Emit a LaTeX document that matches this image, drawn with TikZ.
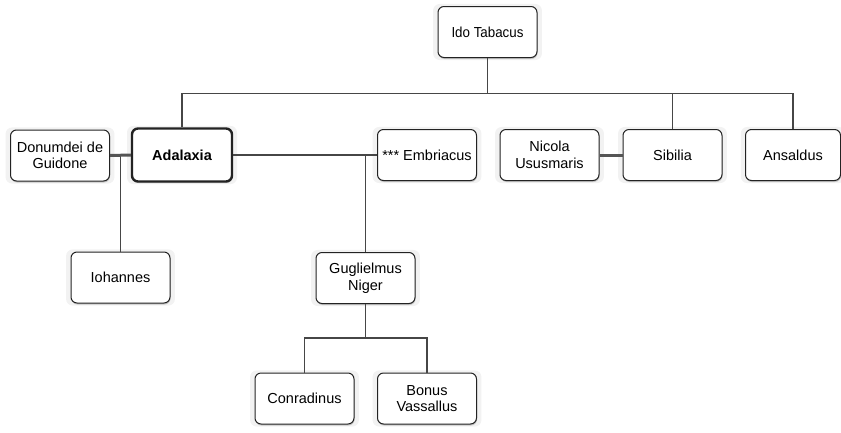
\documentclass[tikz,border=0pt]{standalone}
\usepackage{fontspec}
\setmainfont{Liberation Sans}
\usepackage{tikz}
\usetikzlibrary{positioning, shadows}
\definecolor{lineColor}{RGB}{70, 70, 70}
\definecolor{boxLine}{RGB}{35, 35, 35}
\definecolor{spouseLine}{RGB}{85, 85, 85}
\tikzset{
    person_box/.style={
        rectangle,
        rounded corners=6pt,
        draw=boxLine,
        line width=1pt,
        fill=white,
        minimum width=99pt,
        minimum height=51pt,
        align=center,
        font=\fontsize{14.5}{16.5}\selectfont,
        general shadow={fill=black, opacity=0.05, shadow scale=1.1},
        drop shadow={shadow xshift=0.5pt, shadow yshift=-1.5pt, fill=black, opacity=0.18}
    },
    focus_box/.style={
        person_box,
        line width=2.4pt,
        minimum width=100pt,
        minimum height=53pt,
        font=\fontsize{14.5}{16.5}\selectfont\bfseries
    },
    kin_edge/.style={
        draw=lineColor,
        line width=1.1pt
    },
    spouse_edge/.style={
        draw=spouseLine,
        line width=3pt
    }
}

\begin{document}
\begin{tikzpicture}[x=1pt, y=-1pt]
    \useasboundingbox (0,0) rectangle (841,432);

    \node[person_box] (ido) at (487.5,32) {\scalebox{0.92}[1]{Ido Tabacus}};

    \node[person_box] (donu) at (60,155.5) {Donumdei de\\Guidone};
    \node[focus_box] (adal) at (182,155) {Adalaxia};
    \node[person_box] (emb) at (427,155) {*** Embriacus};
    \node[person_box] (nic) at (549.5,155) {Nicola\\Ususmaris};
    \node[person_box] (sib) at (672.5,155) {Sibilia};
    \node[person_box, minimum width=95pt] (ans) at (793,155) {Ansaldus};

    \node[person_box] (ioh) at (120.5,277.5) {Iohannes};
    \node[person_box] (gug) at (365.5,278) {Guglielmus\\Niger};

    \node[person_box] (con) at (304.5,398.5) {Conradinus};
    \node[person_box] (bon) at (427,398.5) {Bonus\\Vassallus};

    \coordinate (top_bus) at (0,93.5);
    \coordinate (low_bus) at (0,338);

    % parents to children
    \draw[kin_edge] (ido.south) -- (ido.south |- top_bus);
    \draw[kin_edge] (adal.north) |- (ans.north |- top_bus) -- (ans.north);
    \draw[kin_edge] (sib.north) -- (sib.north |- top_bus);
    \draw[kin_edge] (ioh.north) -- (ioh.north |- adal.west);
    \draw[kin_edge] (adal.east) -- (emb.west);
    \draw[kin_edge] (gug.north) -- (gug.north |- emb.west);
    \draw[kin_edge] (gug.south) -- (gug.south |- low_bus);
    \draw[kin_edge] (con.north) |- (bon.north |- low_bus) -- (bon.north);

    % marriages
    \draw[spouse_edge] (donu.east) -- (adal.west);
    \draw[spouse_edge] (nic.east) -- (sib.west);
\end{tikzpicture}
\end{document}
